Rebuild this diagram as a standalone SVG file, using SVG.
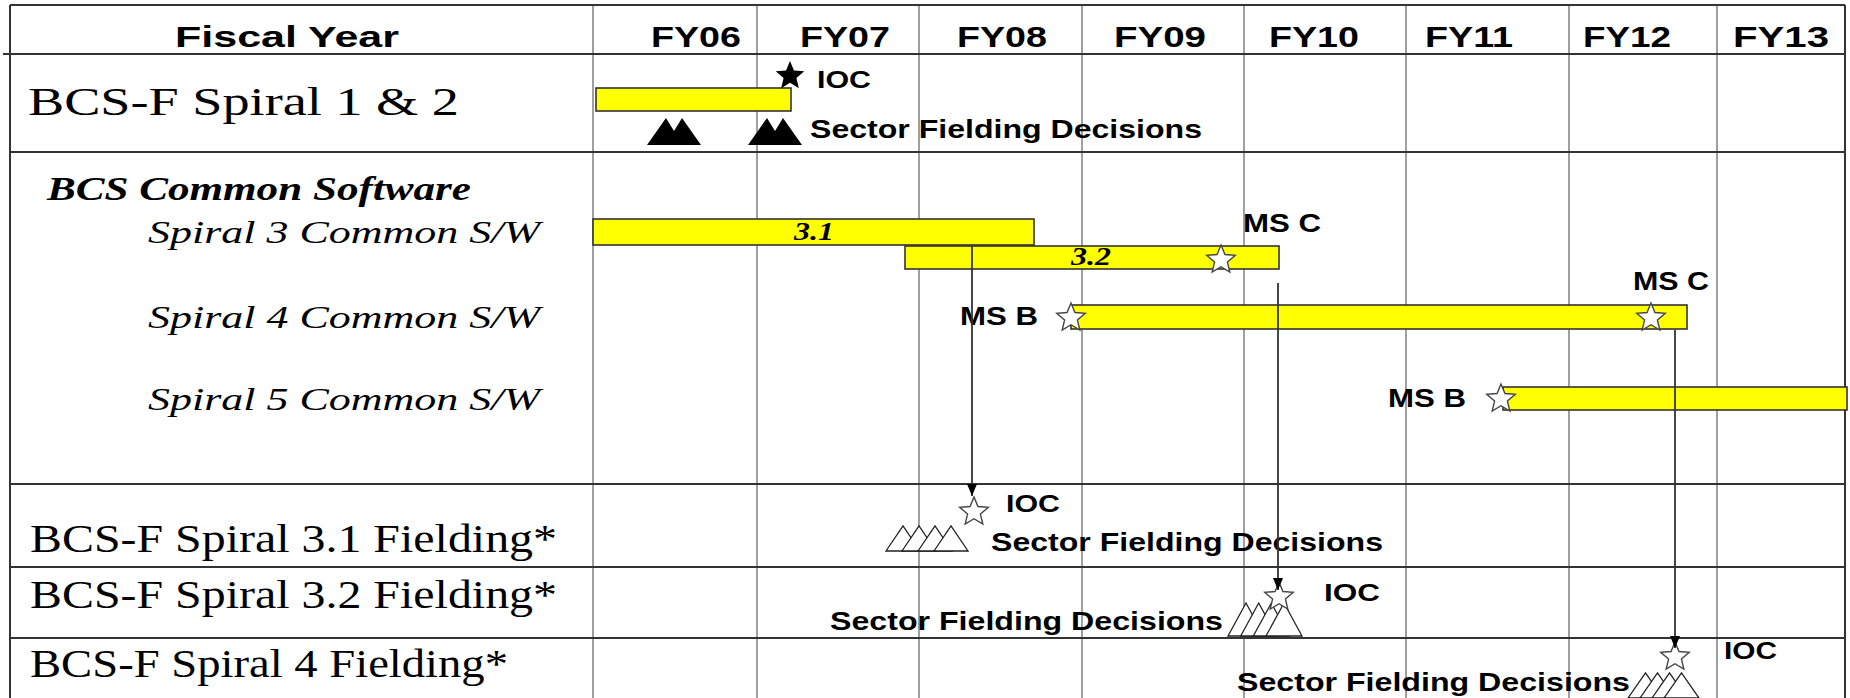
<svg xmlns="http://www.w3.org/2000/svg" xmlns:xlink="http://www.w3.org/1999/xlink" width="1850" height="698" viewBox="0 0 1850 698">
<style>
.hdr{font-family:"Liberation Sans",Arial,sans-serif;font-weight:bold;font-size:29px;fill:#000}
.lbl{font-family:"Liberation Serif","Times New Roman",serif;font-size:40px;fill:#000}
.sec{font-family:"Liberation Serif","Times New Roman",serif;font-size:33px;font-weight:bold;font-style:italic;fill:#000}
.sub{font-family:"Liberation Serif","Times New Roman",serif;font-size:32px;font-style:italic;fill:#000}
.ann{font-family:"Liberation Sans",Arial,sans-serif;font-weight:bold;font-size:25px;fill:#000}
.ioc{font-family:"Liberation Sans",Arial,sans-serif;font-weight:bold;font-size:24px;fill:#000}
.num{font-family:"Liberation Serif","Times New Roman",serif;font-size:25px;font-weight:bold;font-style:italic;fill:#000}
.bar{fill:#FFFF00;stroke:#333;stroke-width:1.6}
.hline{stroke:#333;stroke-width:2}
.vline{stroke:#888;stroke-width:1.6}
.hstar{fill:#fff;stroke:#444;stroke-width:1.4}
.bstar{fill:#000}
.mtn{fill:#fff;stroke:#222;stroke-width:1.3}
.bmtn{fill:#000}
.conn{stroke:#333;stroke-width:1.8;fill:none;marker-end:url(#arrow)}
</style>
<defs>
<marker id="arrow" markerWidth="12" markerHeight="10" refX="12" refY="5" orient="auto" markerUnits="userSpaceOnUse" viewBox="0 0 12 10">
<path d="M0,0 L12,5 L0,10 Z" fill="#000"/>
</marker>
<path id="star" d="M0,-15 L3.96,-5.46 L14.27,-4.64 L6.43,2.09 L8.82,12.14 L0,6.75 L-8.82,12.14 L-6.43,2.09 L-14.27,-4.64 L-3.96,-5.46 Z"/>
</defs>
<rect width="1850" height="698" fill="#fff"/>

<g id="grid">
<line class="vline" x1="593" y1="5" x2="593" y2="698"/>
<line class="vline" x1="757" y1="5" x2="757" y2="698"/>
<line class="vline" x1="919" y1="5" x2="919" y2="698"/>
<line class="vline" x1="1082" y1="5" x2="1082" y2="698"/>
<line class="vline" x1="1244" y1="5" x2="1244" y2="698"/>
<line class="vline" x1="1406" y1="5" x2="1406" y2="698"/>
<line class="vline" x1="1569" y1="5" x2="1569" y2="698"/>
<line class="vline" x1="1717" y1="5" x2="1717" y2="698"/>
<line class="hline" x1="10" y1="5" x2="1845" y2="5"/>
<line class="hline" x1="3" y1="54" x2="1845" y2="54"/>
<line class="hline" x1="10" y1="152" x2="1845" y2="152"/>
<line class="hline" x1="10" y1="484" x2="1845" y2="484"/>
<line class="hline" x1="10" y1="567" x2="1845" y2="567"/>
<line class="hline" x1="10" y1="638" x2="1845" y2="638"/>
<line class="hline" x1="10" y1="5" x2="10" y2="698"/>
<line class="hline" x1="1845" y1="5" x2="1845" y2="698"/>
</g>

<g id="header">
<text class="hdr" x="175" y="47" textLength="224" lengthAdjust="spacingAndGlyphs">Fiscal Year</text>
<text class="hdr" x="651" y="47" textLength="90" lengthAdjust="spacingAndGlyphs">FY06</text>
<text class="hdr" x="800" y="47" textLength="90" lengthAdjust="spacingAndGlyphs">FY07</text>
<text class="hdr" x="957" y="47" textLength="90" lengthAdjust="spacingAndGlyphs">FY08</text>
<text class="hdr" x="1114" y="47" textLength="92" lengthAdjust="spacingAndGlyphs">FY09</text>
<text class="hdr" x="1269" y="47" textLength="90" lengthAdjust="spacingAndGlyphs">FY10</text>
<text class="hdr" x="1425" y="47" textLength="88" lengthAdjust="spacingAndGlyphs">FY11</text>
<text class="hdr" x="1583" y="47" textLength="88" lengthAdjust="spacingAndGlyphs">FY12</text>
<text class="hdr" x="1733" y="47" textLength="96" lengthAdjust="spacingAndGlyphs">FY13</text>
</g>

<g id="spiral-1-2">
<text class="lbl" x="28" y="115" textLength="431" lengthAdjust="spacingAndGlyphs">BCS-F Spiral 1 &amp; 2</text>
<rect class="bar" x="596" y="88" width="195" height="23"/>
<use href="#star" class="bstar" x="790" y="76"/>
<text class="ioc" x="817" y="88" textLength="54" lengthAdjust="spacingAndGlyphs">IOC</text>
<polygon class="bmtn" points="647,145 666,118 674,131 682,118 701,145"/>
<polygon class="bmtn" points="748,145 767,118 775,131 783,118 802,145"/>
<text class="ann" x="810" y="138" textLength="392" lengthAdjust="spacingAndGlyphs">Sector Fielding Decisions</text>
</g>

<g id="common-software">
<text class="sec" x="47" y="200" textLength="424" lengthAdjust="spacingAndGlyphs">BCS Common Software</text>
</g>

<g id="spiral-3-sw">
<text class="sub" x="148" y="243" textLength="392" lengthAdjust="spacingAndGlyphs">Spiral 3 Common S/W</text>
<rect class="bar" x="593" y="219" width="441" height="26"/>
<text class="num" x="794" y="240" textLength="40" lengthAdjust="spacingAndGlyphs">3.1</text>
<rect class="bar" x="905" y="246" width="374" height="23"/>
<text class="num" x="1071" y="265" textLength="40" lengthAdjust="spacingAndGlyphs">3.2</text>
<use href="#star" class="hstar" x="1221" y="260"/>
<text class="ann" x="1243" y="232" textLength="78" lengthAdjust="spacingAndGlyphs">MS C</text>
</g>

<g id="spiral-4-sw">
<text class="sub" x="148" y="328" textLength="392" lengthAdjust="spacingAndGlyphs">Spiral 4 Common S/W</text>
<rect class="bar" x="1071" y="305" width="616" height="24"/>
<use href="#star" class="hstar" x="1071" y="318"/>
<use href="#star" class="hstar" x="1651" y="318"/>
<text class="ann" x="960" y="325" textLength="78" lengthAdjust="spacingAndGlyphs">MS B</text>
<text class="ann" x="1633" y="290" textLength="76" lengthAdjust="spacingAndGlyphs">MS C</text>
</g>

<g id="spiral-5-sw">
<text class="sub" x="148" y="410" textLength="392" lengthAdjust="spacingAndGlyphs">Spiral 5 Common S/W</text>
<rect class="bar" x="1503" y="387" width="344" height="23"/>
<use href="#star" class="hstar" x="1501" y="399"/>
<text class="ann" x="1388" y="407" textLength="78" lengthAdjust="spacingAndGlyphs">MS B</text>
</g>

<g id="fielding-3-1">
<text class="lbl" x="30" y="552" textLength="527" lengthAdjust="spacingAndGlyphs">BCS-F Spiral 3.1 Fielding*</text>
<polygon class="mtn" points="886,551 903,526 920,551"/>
<polygon class="mtn" points="902,551 919,526 936,551"/>
<polygon class="mtn" points="918,551 935,526 952,551"/>
<polygon class="mtn" points="934,551 951,526 968,551"/>
<use href="#star" class="hstar" x="974" y="512"/>
<text class="ioc" x="1006" y="512" textLength="54" lengthAdjust="spacingAndGlyphs">IOC</text>
<text class="ann" x="991" y="551" textLength="392" lengthAdjust="spacingAndGlyphs">Sector Fielding Decisions</text>
</g>

<g id="fielding-3-2">
<text class="lbl" x="30" y="608" textLength="527" lengthAdjust="spacingAndGlyphs">BCS-F Spiral 3.2 Fielding*</text>
<text class="ann" x="830" y="630" textLength="393" lengthAdjust="spacingAndGlyphs">Sector Fielding Decisions</text>
<polygon class="mtn" points="1228,636 1246,603 1264,636"/>
<polygon class="mtn" points="1240.7,636 1258.7,603 1276.7,636"/>
<polygon class="mtn" points="1253.3,636 1271.3,603 1289.3,636"/>
<polygon class="mtn" points="1266,636 1284,603 1302,636"/>
<use href="#star" class="hstar" x="1279" y="597"/>
<text class="ioc" x="1324" y="601" textLength="56" lengthAdjust="spacingAndGlyphs">IOC</text>
</g>

<g id="fielding-4">
<text class="lbl" x="30" y="677" textLength="478" lengthAdjust="spacingAndGlyphs">BCS-F Spiral 4 Fielding*</text>
<text class="ann" x="1237" y="691" textLength="393" lengthAdjust="spacingAndGlyphs">Sector Fielding Decisions</text>
<polygon class="mtn" points="1628,698 1645.5,673 1663,698"/>
<polygon class="mtn" points="1640,698 1657.5,673 1675,698"/>
<polygon class="mtn" points="1652,698 1669.5,673 1687,698"/>
<polygon class="mtn" points="1664,698 1681.5,673 1699,698"/>
<use href="#star" class="hstar" x="1675" y="657"/>
<text class="ioc" x="1724" y="659" textLength="53" lengthAdjust="spacingAndGlyphs">IOC</text>
</g>

<g id="connectors">
<line class="conn" x1="972" y1="245" x2="972" y2="496"/>
<line class="conn" x1="1278" y1="283" x2="1278" y2="590"/>
<line class="conn" x1="1675" y1="330" x2="1675" y2="648"/>
</g>
</svg>
